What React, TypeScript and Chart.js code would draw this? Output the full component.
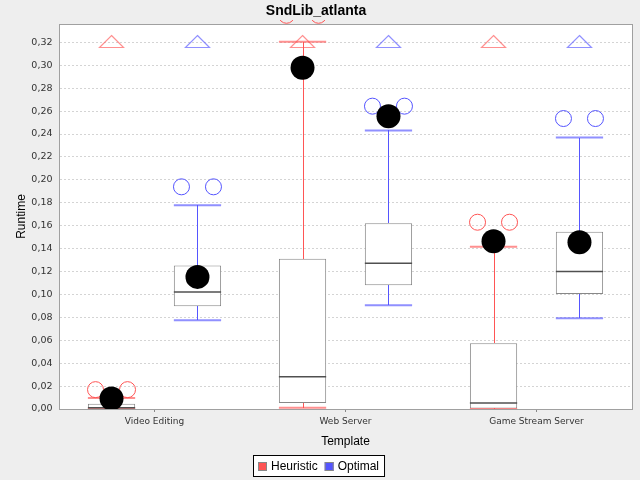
import React, { useEffect, useRef } from 'react';
import { Chart, registerables } from 'chart.js';

Chart.register(...registerables);

// ---- data ----
const categories = ['Video Editing', 'Web Server', 'Game Stream Server'];
const seriesNames = ['Heuristic', 'Optimal'];

const heuristicMin = [0.0, 0.001, 0.0];
const heuristicQ1 = [0.0005, 0.0052, 0.0005];
const heuristicMedian = [0.001, 0.0282, 0.0052];
const heuristicQ3 = [0.0046, 0.1312, 0.0573];
const heuristicMax = [0.0096, 0.3205, 0.1417];
const heuristicMean = [0.0092, 0.2978, 0.1464];
const heuristicOutliers = [[0.0169], [0.3436], [0.163]];
const heuristicFarOut = [true, true, true];

const optimalMin = [0.0774, 0.0905, 0.0791];
const optimalQ1 = [0.0896, 0.108, 0.1004];
const optimalMedian = [0.1022, 0.1272, 0.1199];
const optimalQ3 = [0.1252, 0.1621, 0.1546];
const optimalMax = [0.1778, 0.2431, 0.2369];
const optimalMean = [0.1153, 0.2555, 0.1455];
const optimalOutliers = [[0.1939], [0.2643], [0.2535]];
const optimalFarOut = [true, true, true];

const yTickValues = [0, 0.02, 0.04, 0.06, 0.08, 0.1, 0.12, 0.14, 0.16, 0.18, 0.2, 0.22, 0.24, 0.26, 0.28, 0.3, 0.32];
const yAxisMax = 0.336;

const seriesColors = ['#FF5555', '#5555FF'];
const seriesLight = ['rgba(255,85,85,0.65)', 'rgba(85,85,255,0.65)'];

export default function App() {
  const ref = useRef<HTMLCanvasElement>(null);

  useEffect(() => {
    if (!ref.current) return;
    const stats = [
      { min: heuristicMin, q1: heuristicQ1, med: heuristicMedian, q3: heuristicQ3, max: heuristicMax, mean: heuristicMean, out: heuristicOutliers, far: heuristicFarOut },
      { min: optimalMin, q1: optimalQ1, med: optimalMedian, q3: optimalQ3, max: optimalMax, mean: optimalMean, out: optimalOutliers, far: optimalFarOut },
    ];

    const boxPlugin = {
      id: 'boxWhisker',
      afterDatasetsDraw(chart: any) {
        const ctx = chart.ctx;
        const ys = chart.scales.y;
        const ca = chart.chartArea;
        ctx.save();
        ctx.beginPath();
        ctx.rect(ca.left, ca.top - 4, ca.right - ca.left, ca.bottom - ca.top + 4);
        ctx.clip();
        stats.forEach((s, i) => {
          const meta = chart.getDatasetMeta(i);
          meta.data.forEach((bar: any, j: number) => {
            const x = bar.x;
            const w = bar.width;
            const yMin = ys.getPixelForValue(s.min[j]);
            const yMax = ys.getPixelForValue(s.max[j]);
            const yQ1 = ys.getPixelForValue(s.q1[j]);
            const yQ3 = ys.getPixelForValue(s.q3[j]);
            const yMed = ys.getPixelForValue(s.med[j]);
            const sx = Math.round(x);
            // whisker stems
            ctx.fillStyle = seriesColors[i];
            ctx.fillRect(sx, Math.round(yMax), 1, Math.round(yQ3) - Math.round(yMax));
            ctx.fillRect(sx, Math.round(yQ1), 1, Math.round(yMin) - Math.round(yQ1));
            // caps
            ctx.strokeStyle = seriesLight[i];
            ctx.lineWidth = 2;
            ctx.beginPath();
            ctx.moveTo(x - w / 2, yMax);
            ctx.lineTo(x + w / 2, yMax);
            ctx.moveTo(x - w / 2, yMin);
            ctx.lineTo(x + w / 2, yMin);
            ctx.stroke();
            // median
            ctx.strokeStyle = '#505050';
            ctx.lineWidth = 1.5;
            ctx.beginPath();
            ctx.moveTo(x - w / 2, yMed);
            ctx.lineTo(x + w / 2, yMed);
            ctx.stroke();
            // outliers (clustered pair)
            ctx.strokeStyle = seriesColors[i];
            ctx.lineWidth = 1;
            s.out[j].forEach((v: number) => {
              const yo = ys.getPixelForValue(v);
              [-16, 16].forEach((dx) => {
                ctx.beginPath();
                ctx.arc(x + dx, yo, 8, 0, Math.PI * 2);
                ctx.stroke();
              });
            });
            // mean
            const yMean = ys.getPixelForValue(s.mean[j]);
            ctx.fillStyle = '#000';
            ctx.beginPath();
            ctx.arc(x, yMean, 12, 0, Math.PI * 2);
            ctx.fill();
            // far-out indicator at upper bound
            if (s.far[j]) {
              const yTop = ys.getPixelForValue(ys.max);
              ctx.strokeStyle = seriesLight[i];
              ctx.lineWidth = 1.2;
              ctx.beginPath();
              ctx.moveTo(x, yTop + 11.5);
              ctx.lineTo(x + 12, yTop + 23.5);
              ctx.lineTo(x - 12, yTop + 23.5);
              ctx.closePath();
              ctx.stroke();
            }
          });
        });
        ctx.restore();
      },
    };

    const framePlugin = {
      id: 'frame',
      beforeDraw(chart: any) {
        const ctx = chart.ctx;
        const ca = chart.chartArea;
        ctx.save();
        ctx.fillStyle = '#EEEEEE';
        ctx.fillRect(0, 0, chart.width, chart.height);
        ctx.fillStyle = '#FFFFFF';
        ctx.fillRect(ca.left, ca.top, ca.right - ca.left, ca.bottom - ca.top);
        ctx.restore();
      },
      afterDraw(chart: any) {
        const ctx = chart.ctx;
        const ca = chart.chartArea;
        ctx.save();
        ctx.strokeStyle = '#A0A0A0';
        ctx.lineWidth = 1;
        ctx.strokeRect(ca.left + 0.5, ca.top + 0.5, ca.right - ca.left, ca.bottom - ca.top);
        // legend
        ctx.font = '12px "Liberation Sans", Arial, sans-serif';
        const widths = seriesNames.map((n) => ctx.measureText(n).width);
        const total = 5 + 9 + 4 + widths[0] + 7 + 9 + 4 + widths[1] + 5;
        const left = Math.round(chart.width / 2 - 1 - total / 2);
        const top = 455;
        const h = 21;
        ctx.fillStyle = '#FFFFFF';
        ctx.fillRect(left, top, total, h);
        ctx.strokeStyle = '#000000';
        ctx.strokeRect(left + 0.5, top + 0.5, total, h);
        let cx = left + 5;
        seriesNames.forEach((n, i) => {
          ctx.fillStyle = seriesColors[i];
          ctx.fillRect(cx, top + 7, 9, 9);
          ctx.strokeStyle = '#888';
          ctx.strokeRect(cx + 0.5, top + 7.5, 8, 8);
          cx += 9 + 4;
          ctx.fillStyle = '#000';
          ctx.textBaseline = 'middle';
          ctx.textAlign = 'left';
          ctx.fillText(n, cx, top + 11.5);
          cx += widths[i] + 7;
        });
        ctx.restore();
      },
    };

    const chart = new Chart(ref.current, {
      type: 'bar',
      data: {
        labels: categories,
        datasets: seriesNames.map((name, i) => ({
          label: name,
          data: stats[i].q1.map((q1, j) => [q1, stats[i].q3[j]]),
          backgroundColor: '#FFFFFF',
          borderColor: '#888888',
          borderWidth: 1,
          borderSkipped: false,
          categoryPercentage: 0.9,
          barPercentage: 0.55,
        })),
      },
      options: {
        animation: false,
        responsive: false,
        devicePixelRatio: 1,
        layout: { padding: { left: 0, right: 8, top: 0, bottom: 0 } },
        plugins: {
          legend: { display: false },
          tooltip: { enabled: false },
          title: {
            display: true,
            text: 'SndLib_atlanta',
            color: '#000',
            font: { family: '"Liberation Sans", Arial, sans-serif', size: 14, weight: 'bold' },
            padding: { top: 2.5, bottom: 4.7 },
          },
        },
        scales: {
          x: {
            type: 'category',
            offset: true,
            grid: { display: true, drawOnChartArea: false, drawTicks: true, tickLength: 3, offset: false, color: '#888' },
            border: { color: '#A0A0A0' },
            ticks: {
              font: { family: '"DejaVu Sans", sans-serif', size: 9 },
              color: '#333',
              padding: 4,
              maxRotation: 0,
              autoSkip: false,
            },
            title: {
              display: true,
              text: 'Template',
              color: '#000',
              font: { family: '"Liberation Sans", Arial, sans-serif', size: 12 },
              padding: { top: 0, bottom: 30.8 },
            },
            afterFit: (s: any) => { s.height = 71; },
          },
          y: {
            type: 'linear',
            min: 0,
            max: yAxisMax,
            afterBuildTicks: (s: any) => { s.ticks = yTickValues.map((v) => ({ value: v })); },
            grid: { color: '#D4D4D4', drawTicks: false },
            border: { color: '#A0A0A0', dash: [2, 2] },
            ticks: {
              font: { family: '"DejaVu Sans", sans-serif', size: 9.5 },
              color: '#333',
              padding: 6.5,
              callback: (v: any) => Number(v).toFixed(2).replace('.', ','),
            },
            title: {
              display: true,
              text: 'Runtime',
              color: '#000',
              font: { family: '"Liberation Sans", Arial, sans-serif', size: 12 },
              padding: { top: 14.3, bottom: 0 },
            },
            afterFit: (s: any) => { s.width = 59; },
          },
        },
      },
      plugins: [boxPlugin, framePlugin],
    } as any);

    return () => chart.destroy();
  }, []);

  return (
    <div style={{ position: 'absolute', left: 0, top: 0, width: 640, height: 480 }}>
      <canvas ref={ref} width={640} height={480} style={{ display: 'block' }} />
    </div>
  );
}
